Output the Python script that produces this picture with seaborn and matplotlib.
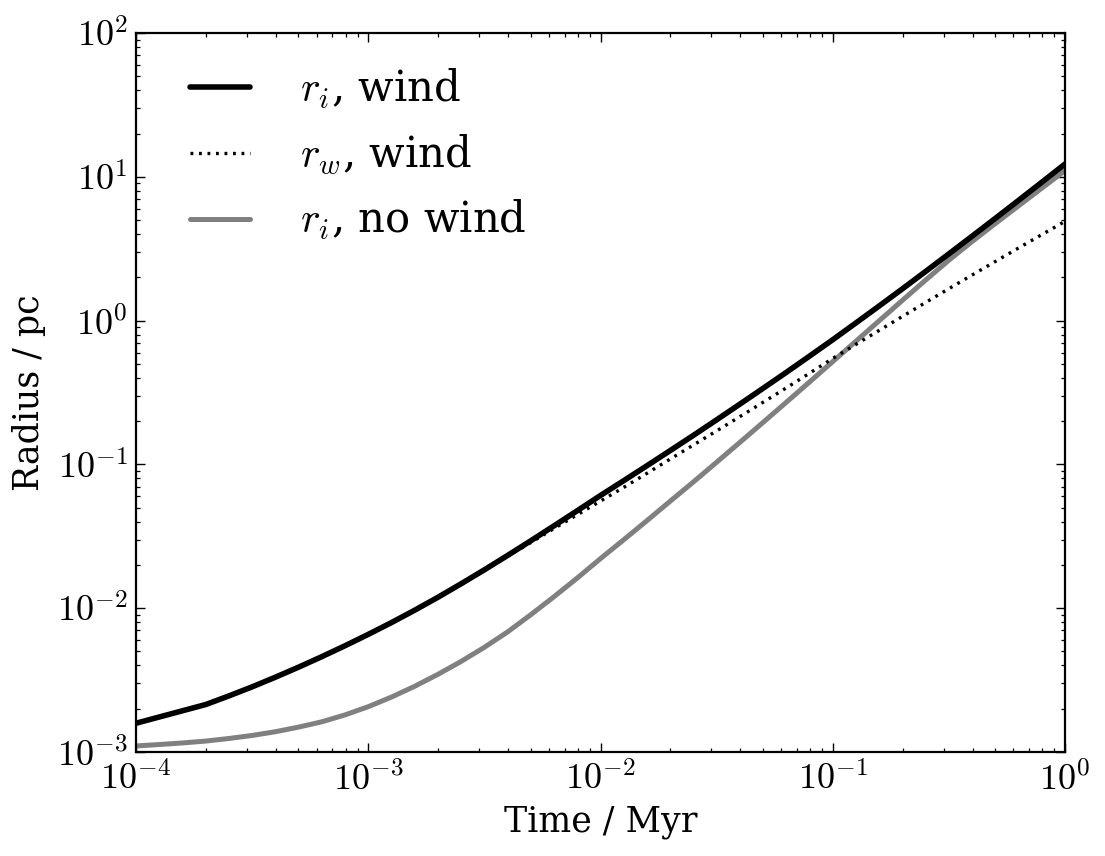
import numpy as np
import pandas as pd
import matplotlib
matplotlib.use("Agg")
import matplotlib.pyplot as plt
from matplotlib.ticker import FuncFormatter
import seaborn as sns

# ---- data (log10 values) ----
log_t_wind = [-4.0, -3.7, -3.6, -3.5, -3.4, -3.3, -3.2, -3.1, -3.0,
              -2.9, -2.8, -2.7, -2.6, -2.5, -2.4, -2.3, -2.2, -2.1, -2.0,
              -1.9, -1.8, -1.7, -1.6, -1.5, -1.4, -1.3, -1.2, -1.1, -1.0,
              -0.9, -0.8, -0.7, -0.6, -0.5, -0.4, -0.3, -0.2, -0.1, 0.0]
log_ri_wind = [-2.800, -2.670, -2.610, -2.547, -2.480, -2.410, -2.337, -2.261, -2.182,
               -2.100, -2.014, -1.924, -1.830, -1.733, -1.633, -1.531, -1.427, -1.322, -1.216,
               -1.113, -1.009, -0.904, -0.798, -0.690, -0.581, -0.471, -0.360, -0.247, -0.133,
               -0.016, 0.102, 0.221, 0.342, 0.464, 0.587, 0.711, 0.836, 0.962, 1.089]
log_rw_wind = [-2.800, -2.670, -2.610, -2.547, -2.480, -2.410, -2.337, -2.261, -2.182,
               -2.100, -2.014, -1.924, -1.830, -1.734, -1.638, -1.543, -1.446, -1.350, -1.255,
               -1.160, -1.062, -0.963, -0.865, -0.767, -0.668, -0.568, -0.468, -0.366, -0.263,
               -0.165, -0.068, 0.029, 0.126, 0.222, 0.317, 0.411, 0.505, 0.598, 0.690]
log_t_nowind = [-4.0, -3.9, -3.8, -3.7, -3.6, -3.5, -3.4, -3.3, -3.2, -3.1, -3.0,
                -2.9, -2.8, -2.7, -2.6, -2.5, -2.4, -2.3, -2.2, -2.1, -2.0,
                -1.9, -1.8, -1.7, -1.6, -1.5, -1.4, -1.3, -1.2, -1.1, -1.0,
                -0.9, -0.8, -0.7, -0.6, -0.5, -0.4, -0.3, -0.2, -0.1, 0.0]
log_ri_nowind = [-2.958, -2.948, -2.937, -2.924, -2.906, -2.885, -2.859, -2.827, -2.790, -2.742, -2.685,
                 -2.618, -2.543, -2.460, -2.370, -2.272, -2.165, -2.045, -1.920, -1.790, -1.655,
                 -1.524, -1.391, -1.256, -1.122, -0.985, -0.847, -0.708, -0.568, -0.427, -0.285,
                 -0.143, -0.001, 0.141, 0.282, 0.420, 0.550, 0.675, 0.798, 0.921, 1.043]

labels = [r"$r_i$, wind", r"$r_w$, wind", r"$r_i$, no wind"]
x_label = "Time / Myr"
y_label = "Radius / pc"

t_w = 10.0 ** np.array(log_t_wind)
t_n = 10.0 ** np.array(log_t_nowind)
df_ri = pd.DataFrame({"t": t_w, "r": 10.0 ** np.array(log_ri_wind)})
df_rw = pd.DataFrame({"t": t_w, "r": 10.0 ** np.array(log_rw_wind)})
df_nw = pd.DataFrame({"t": t_n, "r": 10.0 ** np.array(log_ri_nowind)})

# ---- style ----
sns.set_style("ticks")
plt.rcParams.update({
    "font.family": ["DejaVu Serif"],
    "mathtext.fontset": "cm",
    "text.color": "black",
    "axes.labelcolor": "black",
    "xtick.labelcolor": "black",
    "ytick.labelcolor": "black",
    "axes.linewidth": 1.6,
    "xtick.direction": "in",
    "ytick.direction": "in",
    "xtick.top": True,
    "ytick.right": True,
    "xtick.major.size": 6.5,
    "ytick.major.size": 6.5,
    "xtick.minor.size": 3.2,
    "ytick.minor.size": 3.2,
    "xtick.major.width": 1.0,
    "ytick.major.width": 1.0,
    "xtick.minor.width": 0.9,
    "ytick.minor.width": 0.9,
    "xtick.color": "black",
    "ytick.color": "black",
    "axes.edgecolor": "black",
})

fig = plt.figure(figsize=(11.05, 8.56), dpi=100)
ax = fig.add_axes([136 / 1105, 1 - 752 / 856, (1065 - 136) / 1105, (752 - 33) / 856])

sns.lineplot(data=df_ri, x="t", y="r", ax=ax, color="black", lw=4.0,
             label=labels[0], zorder=3, sort=False, estimator=None)
sns.lineplot(data=df_rw, x="t", y="r", ax=ax, color="black", lw=2.4,
             linestyle=(0, (0.85, 1.7)), label=labels[1], zorder=4, sort=False, estimator=None)
sns.lineplot(data=df_nw, x="t", y="r", ax=ax, color="#808080", lw=3.6,
             label=labels[2], zorder=2, sort=False, estimator=None)

ax.set_xscale("log")
ax.set_yscale("log")
ax.set_xlim(1e-4, 1e0)
ax.set_ylim(1e-3, 1e2)

fmt = FuncFormatter(lambda v, p: r"$10^{%d}$" % int(round(np.log10(v))))
ax.xaxis.set_major_formatter(fmt)
ax.yaxis.set_major_formatter(fmt)

ax.tick_params(axis="both", which="both", labelsize=26, top=True, right=True, direction="in")
ax.tick_params(axis="x", which="major", pad=7)
ax.tick_params(axis="y", which="major", pad=6)

ax.set_xlabel(x_label, fontsize=25, labelpad=6)
ax.set_ylabel(y_label, fontsize=25, labelpad=8)

leg = ax.legend(loc="upper left", bbox_to_anchor=(0.058, 0.953), frameon=False,
                fontsize=30, handlelength=1.45, handletextpad=1.2,
                labelspacing=0.52, borderaxespad=0, borderpad=0)

fig.savefig("out.png", dpi=100)
